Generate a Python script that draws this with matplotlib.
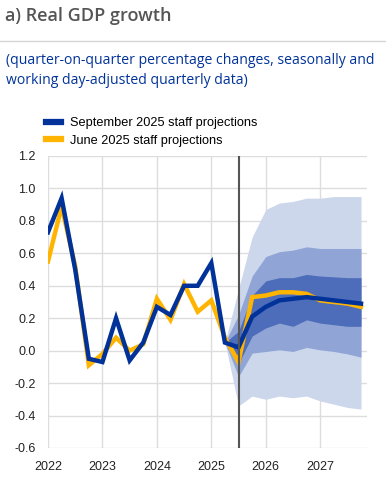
import numpy as np
import matplotlib
matplotlib.use("Agg")
import matplotlib.pyplot as plt
from matplotlib.lines import Line2D

# quarterly data, 2022Q1 - 2027Q4
quarters = np.arange(2022, 2028, 0.25)

september = [0.73, 0.94, 0.50, -0.05,
             -0.07, 0.20, -0.06, 0.05,
             0.27, 0.22, 0.40, 0.40,
             0.54, 0.05, 0.02, 0.21,
             0.27, 0.31, 0.32, 0.33,
             0.32, 0.31, 0.30, 0.29]

june = [0.55, 0.89, 0.52, -0.09,
        -0.02, 0.08, 0.00, 0.04,
        0.32, 0.19, 0.41, 0.24,
        0.31, 0.08, -0.07, 0.33,
        0.34, 0.36, 0.36, 0.35,
        0.31, 0.30, 0.29, 0.27]

# uncertainty fan, from 2025Q2 to 2027Q4
fan_x = np.arange(2025.25, 2027.76, 0.25)
light_hi = [0.05, 0.38, 0.70, 0.87, 0.91, 0.92, 0.94, 0.94, 0.95, 0.95, 0.95]
med_hi = [0.05, 0.22, 0.46, 0.58, 0.61, 0.62, 0.64, 0.63, 0.63, 0.63, 0.63]
dark_hi = [0.05, 0.12, 0.34, 0.43, 0.45, 0.45, 0.47, 0.46, 0.455, 0.45, 0.45]
dark_lo = [0.05, -0.08, 0.09, 0.14, 0.17, 0.15, 0.19, 0.17, 0.16, 0.15, 0.15]
med_lo = [0.05, -0.16, -0.015, -0.005, 0.005, -0.005, 0.02, 0.005, -0.005, -0.02, -0.04]
light_lo = [0.05, -0.34, -0.28, -0.30, -0.28, -0.29, -0.28, -0.31, -0.33, -0.35, -0.36]

cut_off = 2025.5
years = [2022, 2023, 2024, 2025, 2026, 2027]
yticks = np.arange(-0.6, 1.21, 0.2)

blue = "#003299"
yellow = "#FFB400"

fig = plt.figure(figsize=(3.86, 4.78), dpi=100)
ax = fig.add_axes([48/386, 1 - 448/478, 319/386, 292/478])

ax.fill_between(fan_x, light_lo, light_hi, color="#CCD7EC", lw=0, zorder=1)
ax.fill_between(fan_x, med_lo, med_hi, color="#90A5D6", lw=0, zorder=2)
ax.fill_between(fan_x, dark_lo, dark_hi, color="#4D6DBA", lw=0, zorder=3)

ax.plot(quarters, june, color=yellow, lw=3.2, zorder=4, solid_joinstyle="miter")
ax.plot(quarters, september, color=blue, lw=3.2, zorder=5, solid_joinstyle="miter")
ax.axvline(cut_off, color="#555555", lw=1.5, zorder=6)

ax.set_xlim(2022, 2027.86)
ax.set_ylim(-0.6, 1.2)
ax.set_xticks(years)
ax.set_xticklabels([str(y) for y in years])
ax.set_yticks(yticks)
ax.set_yticklabels(["%.1f" % v for v in yticks])
ax.grid(True, color="#DDDDDD", lw=1, zorder=0)
ax.set_axisbelow(True)
for s in ax.spines.values():
    s.set_visible(False)
ax.tick_params(length=0, labelsize=9, pad=9, labelcolor="#222222")
for lab in ax.get_xticklabels() + ax.get_yticklabels():
    lab.set_family("Liberation Sans")

# title block
fig.text(5/386, 1 - 16/478, "a) Real GDP growth", family="Open Sans",
         weight="semibold", fontsize=13, color="#555555", va="center")
fig.add_artist(Line2D([0, 1], [1 - 41/478] * 2, color="#D5D5D5", lw=1))
fig.text(6/386, 1 - 60/478,
         "(quarter-on-quarter percentage changes, seasonally and",
         family="Open Sans", fontsize=10.1, color=blue, va="center")
fig.text(6/386, 1 - 80/478, "working day-adjusted quarterly data)",
         family="Open Sans", fontsize=10.1, color=blue, va="center")

handles = [Line2D([], [], color=blue, lw=4.5), Line2D([], [], color=yellow, lw=4.5)]
fig.legend(handles, ["September 2025 staff projections", "June 2025 staff projections"],
           loc="upper left", bbox_to_anchor=(46/386, 1 - 117/478), frameon=False,
           prop={"family": "Liberation Sans", "size": 9.2}, handlelength=1.17,
           handletextpad=0.7, labelspacing=0.45, borderpad=0, borderaxespad=0)

fig.savefig("out.png", dpi=100)
